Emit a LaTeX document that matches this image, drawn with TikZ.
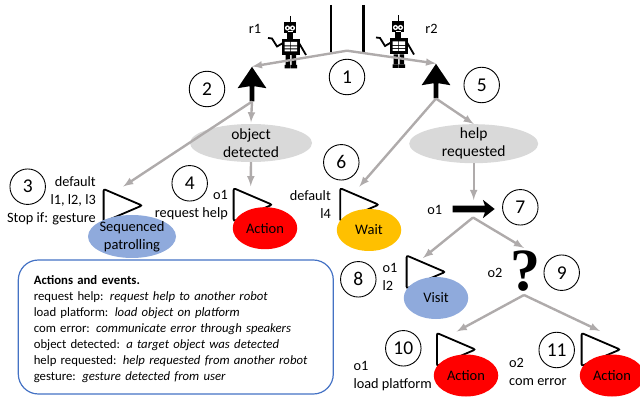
\documentclass[tikz,border=0pt]{standalone}
\usepackage{fontspec}
\setmainfont{Carlito}
\usetikzlibrary{calc,shapes.geometric,shapes.arrows}
\definecolor{flowgray}{RGB}{175,171,171}
\definecolor{eventgray}{RGB}{217,217,217}
\definecolor{pastelblue}{RGB}{143,170,220}
\definecolor{actionred}{RGB}{255,0,0}
\definecolor{waitamber}{RGB}{255,192,0}
\definecolor{legendblue}{RGB}{68,114,196}
\tikzset{
robot/.pic={
\draw[line width=.8pt] (.7,-12) -- (.7,-6);
\fill[black] (-6,-6) rectangle (6,5);
\fill[white] (-2.5,0) circle (2.6) (2.5,0) circle (2.6);
\fill[black] (-2.5,0) circle (1.2) (2.5,0) circle (1.2);
\fill[white] (-2.5,3.2) rectangle (2.5,4);
\fill[black] (-3,5) rectangle (3,11);
\fill[black] (-8,11) rectangle (9.5,27);
\fill[white] (-5.5,14) rectangle (.3,17.5) (1.2,14) rectangle (7,17.5);
\fill[white] (-5.5,18.3) rectangle (.3,20.5) (1.2,18.3) rectangle (7,20.5);
\fill[white] (-5.5,21.3) rectangle (.3,23.5) (1.2,21.3) rectangle (7,23.5);
\draw[line width=1.8pt] (-7,15) -- (-13,18.5) -- (-18,10.5) -- (-22,10);
\draw[line width=1.8pt] (9,15) -- (16,27);
\fill[black] (-4.5,27) rectangle (0,37) (1.5,27) rectangle (6,37);
\fill[black] (-5.5,37) rectangle (.5,40.5) (1,37) rectangle (7,40.5);
}}

\begin{document}
\begin{tikzpicture}[x=1pt, y=-1pt, every node/.style={font=\fontsize{14.3}{18}\selectfont}]
\tikzstyle{flow} = [->, >=latex, draw=flowgray, line width=2.4pt]
\tikzstyle{num} = [circle, draw=black, line width=.9pt, minimum size=35.5pt, inner sep=0pt, font=\fontsize{19.5}{22}\selectfont]
\tikzstyle{gatebox} = [isosceles triangle, isosceles triangle stretches, shape border rotate=0, minimum width=33pt, minimum height=38.5pt, inner sep=0pt, rounded corners=2pt, draw=black, line width=1.8pt, anchor=lower side]
\tikzstyle{taskbox} = [ellipse, minimum width=64.5pt, minimum height=42pt, inner sep=-8pt, align=center, font=\fontsize{14.5}{17.7}\selectfont]
\tikzstyle{eventbox} = [ellipse, fill=eventgray, inner sep=-8pt, align=center, font=\fontsize{15.5}{17.7}\selectfont]
\tikzstyle{seqarrow} = [single arrow, fill=black, inner sep=2.2pt, single arrow head extend=12pt, single arrow tip angle=68, single arrow head indent=2pt, shape border rotate=90, minimum height=34.5pt, anchor=tip]

\useasboundingbox (0,0) rectangle (640,398);

% walls and robots
\draw[line width=2.6pt] (331,5) -- (331,52);
\draw[line width=2.6pt] (363.3,5) -- (363.3,53);
\pic at (290,28) {robot};
\pic at (398,27.5) {robot};
\node (r1) at (255,28.5) {r1};
\node (r2) at (431.5,28.5) {r2};

\coordinate (root) at (347,50.7);
\node (seq1) [seqarrow] at (252,66.5) {};
\node (seq2) [seqarrow] at (436,63.5) {};

\node (ev1) [eventbox, minimum width=122pt, minimum height=38pt] at (251,143) {object\\detected};
\node (ev2) [eventbox, minimum width=129pt, minimum height=39pt] at (473.7,143.7) {help\\requested};

\node (gate3) [gatebox] at (102.7,205.5) {};
\node (gate4) [gatebox] at (232.7,204.7) {};
\node (gate6) [gatebox] at (339.3,204.7) {};
\node (gate8) [gatebox] at (405.7,272) {};
\node (gate10) [gatebox] at (436,349.5) {};
\node (gate11) [gatebox] at (580.7,349.5) {};

\node (task3) [taskbox, fill=pastelblue, minimum width=88pt, minimum height=43pt] at ($(gate3.lower side) + (29.3,31)$) {Sequenced\\patrolling};
\node (task4) [taskbox, fill=actionred] at ($(gate4.lower side) + (32.3,23.5)$) {Action};
\node (task6) [taskbox, fill=waitamber] at ($(gate6.lower side) + (29.7,25.3)$) {Wait};
\node (task8) [taskbox, fill=pastelblue] at ($(gate8.lower side) + (30.3,26)$) {Visit};
\node (task10) [taskbox, fill=actionred] at ($(gate10.lower side) + (30,26)$) {Action};
\node (task11) [taskbox, fill=actionred] at ($(gate11.lower side) + (31.3,26)$) {Action};

\node (fb) [seqarrow, shape border rotate=0, inner sep=3.2pt, single arrow head extend=5.8pt, single arrow tip angle=76, minimum height=42pt] at (495,209) {};
\node (quest) at (525,271) {\fontspec{Liberation Serif}\bfseries\fontsize{60}{60}\selectfont ?};
\coordinate (fbin) at (473.7,200);
\coordinate (fbout) at (473,217.5);
\coordinate (qin) at (524,248);
\coordinate (qout) at (524,295);

\node (n1) [num] at (347,77) {1};
\node (n2) [num] at (207,89) {2};
\node (n3) [num] at (27.7,186.7) {3};
\node (n4) [num] at (189.7,183.3) {4};
\node (n5) [num] at (481.7,85) {5};
\node (n6) [num] at (341.3,162.3) {6};
\node (n7) [num] at (520.3,207.3) {7};
\node (n8) [num] at (358.3,279.3) {8};
\node (n9) [num] at (561.7,272.7) {9};
\node (n10) [num] at (403.3,348.3) {10};
\node (n11) [num] at (556.7,350) {11};

\node (lab3) [anchor=east, align=right, inner sep=0pt] at (96,200.7) {default\\l1, l2, l3\\Stop if: gesture};
\node (lab4) [anchor=east, align=right, inner sep=0pt] at (228,204.7) {o1\\request help};
\node (lab6) [anchor=east, align=right, inner sep=0pt] at (331,204.4) {default\\l4};
\node (lab7) at (434.7,210) {o1};
\node (lab8) [anchor=west, align=left, inner sep=0pt] at (382.5,277.3) {o1\\l2};
\node (lab9) at (495,272.7) {o2};
\node (lab10) [anchor=west, align=left, inner sep=0pt] at (353.3,375.7) {o1\\load platform};
\node (lab11) [anchor=west, align=left, inner sep=0pt] at (509,371.7) {o2\\com error};

\node (legend) [rectangle, rounded corners=20pt, draw=legendblue, line width=1.2pt, minimum width=315pt, minimum height=134pt, text width=284pt, inner sep=0pt, align=left, font=\fontsize{12.75}{16}\selectfont] at (175.8,327) {\rule{0pt}{14pt}\textbf{Actions and events.}\\
request help: \textit{request help to another robot}\\
load platform: \textit{load object on platform}\\
com error: \textit{communicate error through speakers}\\
object detected: \textit{a target object was detected}\\
help requested: \textit{help requested from another robot}\\
gesture: \textit{gesture detected from user}};

\draw[flow] (root) -- (seq1.tip);
\draw[flow] (root) -- (seq2.tip);
\draw[flow] (seq1.tail) -- ($(ev1.north) + (0,-1.5)$);
\draw[flow] (seq1.tail) -- ($(gate3.lower side) + (20.5,-19)$);
\draw[flow] (ev1.south) -- ($(gate4.lower side) + (18,-18.5)$);
\draw[flow] (seq2.tail) -- ($(gate6.lower side) + (20,-18)$);
\draw[flow] (seq2.tail) -- (ev2.north);
\draw[flow] (ev2.south) -- (fbin);
\draw[flow] (fbout) -- ($(gate8.lower side) + (17.3,-14)$);
\draw[flow] (fbout) -- (qin);
\draw[flow] (qout) -- ($(gate10.lower side) + (20.7,-18)$);
\draw[flow] (qout) -- ($(gate11.lower side) + (19.3,-18.5)$);

\end{tikzpicture}
\end{document}
